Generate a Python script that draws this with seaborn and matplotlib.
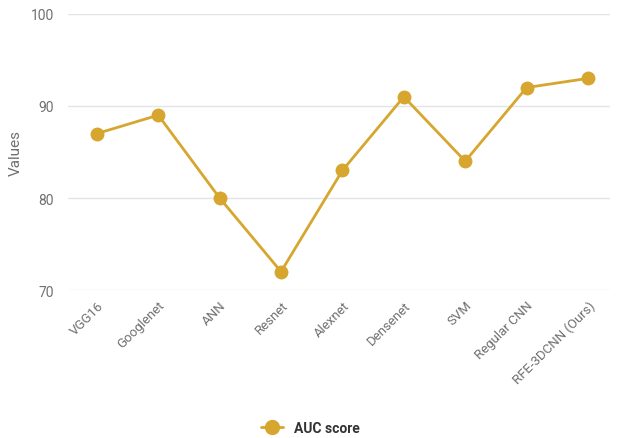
import matplotlib
matplotlib.use("Agg")
import matplotlib.pyplot as plt
import seaborn as sns
import pandas as pd

models = ["VGG16", "Googlenet", "ANN", "Resnet", "Alexnet", "Densenet",
          "SVM", "Regular CNN", "RFE-3DCNN (Ours)"]
auc_scores = [87, 89, 80, 72, 83, 91, 84, 92, 93]
y_ticks = [70, 80, 90, 100]

sns.set_theme(style="white")
plt.rcParams["font.family"] = ["Roboto", "DejaVu Sans"]

gold = "#D6A62E"
df = pd.DataFrame({"Model": models, "AUC score": auc_scores})

fig = plt.figure(figsize=(6.21, 4.39), dpi=100)
ax = fig.add_axes([0.1095, 0.337, 0.872, 0.629])

sns.lineplot(data=df, x="Model", y="AUC score", ax=ax, color=gold,
             linewidth=2, marker="o", markersize=10, markeredgewidth=0,
             sort=False, label="AUC score", legend=False)

ax.set_ylim(70, 100)
ax.set_yticks(y_ticks)
ax.set_xlim(-0.47, 8.35)
ax.grid(axis="y", color="#e3e3ea", linewidth=1)
ax.set_axisbelow(True)
for s in ax.spines.values():
    s.set_visible(False)

ax.tick_params(axis="both", length=0, colors="#707070", labelsize=10)
ax.tick_params(axis="y", pad=10)
ax.tick_params(axis="x", pad=6)
plt.setp(ax.get_xticklabels(), rotation=45, ha="right", rotation_mode="anchor",
         fontsize=9.5)
ax.set_xlabel("")
ax.set_ylabel("Values", color="#707070", fontsize=11, labelpad=6)

handles, labels = ax.get_legend_handles_labels()
leg = fig.legend(handles, labels, loc="center", bbox_to_anchor=(0.5, 0.022),
                 frameon=False, handlelength=1.6, markerscale=1.1,
                 prop={"weight": "bold", "size": 10})
for t in leg.get_texts():
    t.set_color("#333333")

fig.savefig("out.png", dpi=100)
